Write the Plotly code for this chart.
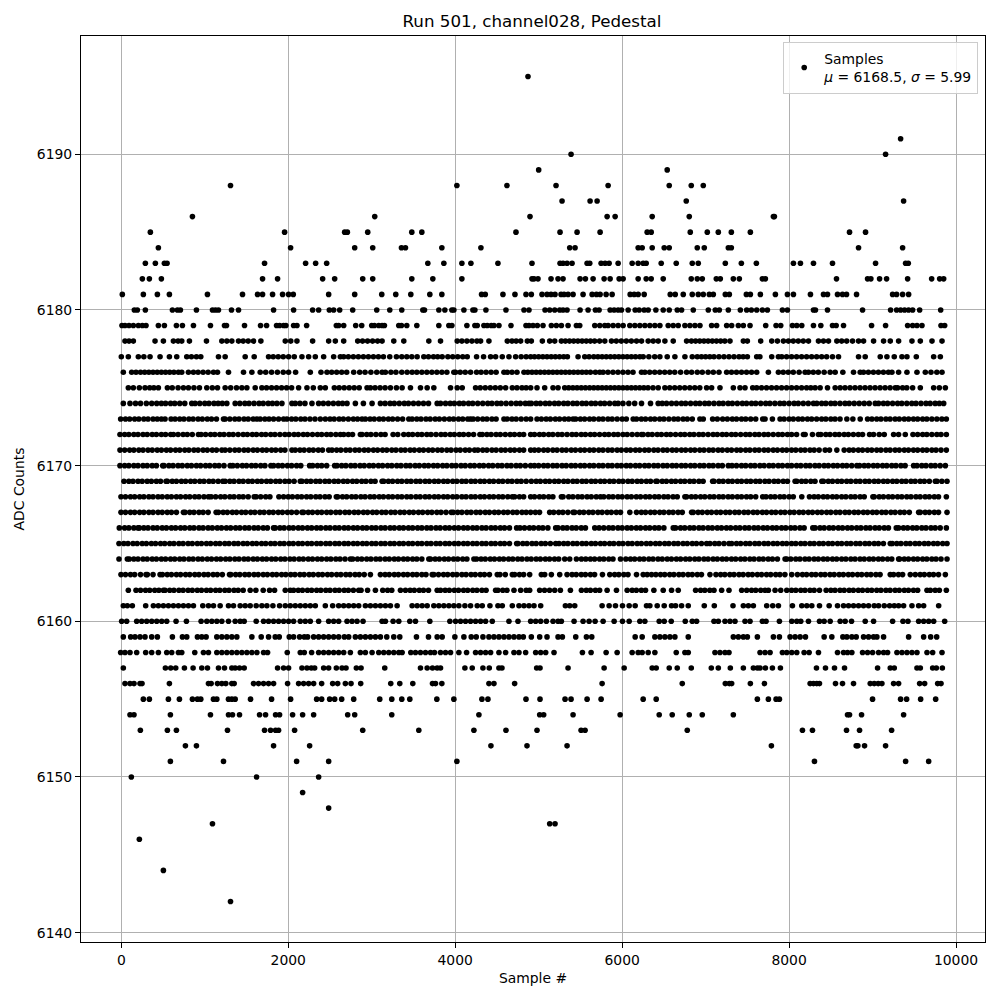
import plotly.graph_objects as go

s6195=[4872]
s6191=[9336]
s6190=[5388,9156]
s6189=[5000,6540]
s6188=[1308,4020,4620,5208,5832,6564,6828,6972]
s6187=[5280,5616,5700,6768,9372]
s6186=[852,3036,4896,5820,5916,6360,6804,7812,7824]
s6185=[348,1956,2676,2708,2952,3480,3600,4728,5256,5460,5736,6300,6348,6816,7020,7152,7308,7536,8724,8916]
s6184=[444,2028,2796,3012,3356,3404,3840,4308,5372,5436,6192,6240,6360,6504,6564,6900,6984,7272,7308,8832,9360]
s6183=[288,408,516,548,1716,2208,2328,2460,3672,3864,4080,4188,4512,4920,5256,5292,5340,5400,5580,5612,5748,5796,5844,5952,6120,6192,6252,6288,6468,6648,6840,6912,7236,7428,7608,8052,8136,8292,8520,9036,9396,9428]
s6182=[252,336,480,1692,1872,2412,2556,2892,3012,3480,3732,4080,4920,4944,4992,5148,5232,5292,5496,5560,5652,5784,5856,5964,6012,6192,6288,6348,6492,6828,6900,6960,7128,7176,7332,7404,7680,7716,8568,8940,8980,9084,9168,9420,9708,9804,9852]
s6181=[12,264,432,576,1032,1452,1632,1692,1812,1932,2004,2060,2484,2796,3120,3288,3468,3696,3840,4316,4360,4572,4716,4848,4912,5040,5100,5148,5196,5268,5304,5352,5412,5532,5640,5692,5736,5808,5880,6096,6144,6192,6264,6576,6636,6732,6840,6912,6972,7044,7092,7236,7284,7488,7536,7656,7836,7980,8052,8256,8412,8460,8580,8640,8688,8808,9240,9288,9360,9432]
s6180=[156,192,288,612,672,708,900,1092,1128,1164,1320,1404,1824,2064,2292,2364,2492,2544,2616,2772,3060,3216,3360,3612,3632,3804,3876,3960,3984,4104,4212,4236,4368,4608,4824,4884,5076,5132,5192,5252,5292,5340,5496,5592,5680,5724,5856,5904,5952,5992,6072,6156,6204,6264,6312,6404,6492,6564,6660,6712,6852,7032,7116,7164,7272,7416,7492,7548,7612,7680,7740,7920,7980,8292,8316,8460,8880,9216,9288,9336,9384,9432,9480,9564,9816]
s6179=[8,44,92,144,204,252,296,444,516,660,732,864,1068,1236,1260,1476,1668,1740,1860,1896,1944,1972,2064,2104,2220,2576,2604,2664,2808,2880,3000,3032,3084,3124,3152,3324,3356,3420,3540,3804,3924,3960,4140,4236,4264,4344,4384,4432,4464,4524,4668,4848,4884,4932,4984,5052,5152,5212,5272,5352,5452,5492,5672,5732,5792,5832,5892,5952,6012,6092,6152,6212,6272,6332,6392,6452,6552,6612,6672,6752,6812,6872,6932,7072,7132,7252,7312,7392,7452,7532,7720,7844,7900,8040,8092,8152,8292,8380,8520,8564,8652,8988,9156,9420,9480,9532,9592,9820,9864]
s6178=[44,92,144,404,504,624,680,724,816,1020,1204,1264,1324,1404,1460,1520,1584,1672,1964,2030,2104,2292,2484,2564,2664,2832,2890,2950,3010,3070,3124,3264,3384,3684,3824,4024,4080,4140,4200,4260,4304,4404,4624,4680,4730,4784,4864,4912,5044,5132,5192,5272,5320,5370,5420,5470,5520,5570,5620,5670,5730,5792,5872,5930,5990,6050,6110,6172,6232,6312,6372,6432,6512,6612,6772,6830,6880,6930,6980,7030,7080,7130,7180,7230,7292,7452,7500,7660,7792,7860,7932,7992,8050,8110,8170,8232,8352,8412,8472,8572,8630,8690,8760,8832,8892,9012,9132,9212,9312,9472,9572,9712,9832]
s6177=[0,84,204,270,344,464,576,664,784,840,900,952,1164,1244,1484,1592,1764,1820,1880,1940,2004,2072,2164,2244,2324,2424,2544,2624,2664,2720,2780,2840,2900,2960,3020,3080,3140,3216,3296,3360,3420,3480,3544,3624,3680,3740,3790,3844,3912,3970,4030,4090,4144,4256,4340,4424,4484,4564,4644,4724,4790,4850,4904,4950,5000,5050,5100,5150,5200,5250,5300,5344,5472,5552,5604,5660,5710,5760,5810,5860,5910,5960,6010,6060,6110,6160,6212,6252,6320,6390,6452,6540,6632,6752,6840,6900,6950,7000,7050,7100,7160,7220,7280,7340,7400,7450,7500,7612,7650,7792,7872,7912,7970,8030,8090,8150,8210,8270,8330,8390,8450,8520,8592,8832,8912,9092,9172,9260,9352,9412,9524,9732,9812]
s6176=[24,124,176,230,280,330,380,430,480,530,580,630,684,724,804,864,920,980,1040,1104,1152,1284,1464,1564,1664,1730,1800,1870,1940,2004,2088,2264,2392,2464,2520,2580,2640,2700,2784,2856,2920,2990,3060,3124,3164,3230,3290,3360,3424,3484,3540,3600,3660,3720,3780,3840,3900,3984,4004,4060,4120,4184,4256,4310,4370,4430,4490,4584,4624,4680,4740,4824,4870,4920,4970,5020,5070,5120,5170,5220,5270,5320,5370,5420,5470,5520,5570,5620,5680,5732,5772,5830,5890,5950,6010,6070,6130,6232,6272,6330,6390,6450,6510,6570,6630,6700,6772,6832,6900,6960,7030,7092,7160,7252,7310,7370,7430,7490,7550,7612,7752,7872,7930,7990,8050,8120,8192,8232,8290,8350,8420,8492,8552,8644,8772,8852,8892,8950,9010,9070,9130,9190,9232,9312,9412,9532,9632,9700,9770,9832]
s6175=[84,144,216,284,340,390,444,552,610,680,744,804,870,936,1024,1090,1152,1244,1310,1380,1444,1504,1604,1684,1740,1800,1860,1920,1980,2040,2124,2224,2300,2384,2444,2552,2610,2670,2730,2790,2850,2944,2984,3040,3100,3160,3224,3296,3364,3464,3584,3664,3744,3944,4024,4084,4244,4300,4360,4420,4480,4540,4604,4684,4740,4800,4850,4904,4980,5072,5172,5232,5312,5360,5410,5460,5510,5560,5610,5660,5710,5760,5810,5860,5910,5960,6010,6060,6110,6160,6210,6260,6310,6370,6432,6512,6570,6630,6690,6750,6810,6870,6930,7012,7072,7172,7332,7412,7472,7564,7612,7670,7730,7790,7850,7910,7970,8030,8090,8150,8210,8260,8312,8372,8460,8552,8612,8670,8730,8790,8850,8910,8970,9030,9090,9150,9210,9272,9300,9360,9410,9480,9572,9732,9800,9872]
s6174=[24,104,170,230,300,364,424,480,530,590,640,700,760,844,884,940,1000,1050,1110,1160,1210,1264,1364,1420,1480,1530,1590,1650,1700,1760,1810,1864,1924,2044,2084,2140,2200,2284,2364,2420,2480,2540,2600,2650,2704,2804,2900,3004,3104,3160,3220,3270,3330,3390,3440,3500,3560,3620,3680,3784,3824,3884,3940,3990,4050,4100,4160,4210,4270,4330,4390,4440,4500,4550,4610,4670,4730,4780,4840,4884,4912,4970,5020,5080,5130,5190,5240,5300,5350,5410,5460,5520,5570,5630,5680,5740,5790,5850,5912,5952,6010,6080,6150,6232,6340,6432,6480,6532,6592,6650,6710,6760,6820,6880,6930,6990,7040,7100,7160,7210,7270,7320,7380,7440,7490,7550,7600,7660,7720,7770,7830,7890,7940,8000,8060,8110,8170,8230,8292,8332,8390,8440,8500,8550,8610,8670,8720,8780,8840,8900,8960,9032,9072,9130,9180,9240,9300,9350,9410,9470,9520,9580,9640,9690,9750,9800,9852]
s6173=[-8,50,100,160,210,270,320,380,430,480,524,596,644,700,750,810,860,920,970,1030,1080,1140,1224,1244,1300,1360,1410,1470,1520,1580,1624,1664,1720,1770,1824,1884,1944,1984,2040,2090,2150,2200,2260,2320,2384,2444,2500,2550,2610,2660,2720,2780,2830,2884,2924,2980,3030,3090,3140,3200,3250,3310,3370,3444,3484,3540,3590,3650,3700,3760,3810,3870,3930,3980,4040,4090,4150,4184,4216,4270,4330,4380,4440,4490,4584,4624,4680,4730,4790,4850,4904,4980,5032,5090,5140,5200,5250,5310,5360,5412,5444,5500,5550,5610,5660,5720,5770,5830,5880,5940,6000,6050,6132,6172,6230,6280,6340,6390,6450,6500,6560,6620,6670,6730,6780,6840,6932,6972,7084,7140,7204,7260,7320,7370,7430,7480,7540,7600,7684,7712,7800,7892,7940,8000,8050,8110,8160,8220,8270,8330,8390,8440,8500,8550,8610,8692,8764,8852,8940,8992,9050,9100,9160,9210,9270,9320,9380,9432,9490,9540,9600,9650,9710,9770,9830,9884]
s6172=[-16,40,90,150,200,260,310,370,420,480,530,592,624,680,740,790,850,924,956,1010,1070,1120,1180,1230,1290,1340,1400,1460,1510,1570,1620,1680,1730,1790,1840,1900,1960,2010,2070,2120,2180,2230,2290,2350,2400,2460,2510,2570,2624,2664,2720,2770,2864,2884,2940,2990,3050,3110,3160,3256,3312,3384,3440,3490,3550,3600,3660,3710,3770,3830,3880,3940,3990,4050,4100,4160,4220,4296,4324,4380,4430,4490,4540,4600,4660,4710,4770,4820,4904,4950,5010,5060,5120,5170,5230,5280,5340,5400,5450,5510,5560,5620,5670,5730,5790,5840,5900,5950,6010,6060,6120,6180,6232,6252,6310,6360,6420,6470,6530,6580,6640,6700,6750,6810,6860,6920,6970,7030,7090,7140,7200,7250,7310,7360,7420,7480,7530,7590,7640,7700,7750,7810,7870,7920,7980,8030,8090,8172,8192,8280,8352,8380,8440,8490,8550,8600,8660,8710,8770,8830,8880,8964,9012,9080,9140,9252,9312,9392,9484,9540,9600,9650,9710,9770,9820,9884]
s6171=[-16,40,100,150,210,260,320,370,430,480,540,590,650,700,760,810,870,920,980,1030,1090,1140,1204,1244,1300,1360,1410,1470,1520,1580,1630,1690,1740,1800,1850,1910,1960,2044,2084,2140,2190,2250,2300,2360,2410,2484,2524,2580,2630,2690,2740,2800,2850,2910,2960,3020,3070,3130,3180,3240,3290,3350,3400,3460,3510,3570,3620,3680,3730,3790,3840,3900,3950,4010,4060,4120,4170,4232,4272,4330,4380,4440,4490,4550,4600,4660,4710,4770,4820,4904,4950,5000,5060,5110,5170,5220,5280,5330,5390,5440,5500,5550,5610,5660,5720,5770,5830,5880,5940,5990,6050,6100,6160,6210,6270,6320,6380,6430,6490,6540,6600,6650,6710,6760,6820,6870,6930,6980,7040,7090,7150,7200,7260,7310,7372,7420,7480,7530,7590,7640,7700,7750,7810,7860,7920,7970,8030,8080,8140,8190,8250,8300,8360,8432,8484,8572,8660,8720,8770,8830,8880,8940,8990,9050,9100,9160,9210,9270,9320,9380,9430,9490,9540,9600,9650,9710,9760,9820,9884]
s6170=[-16,40,90,150,200,260,310,370,420,496,512,570,620,680,730,790,840,900,950,1010,1060,1120,1170,1230,1304,1336,1390,1450,1500,1560,1610,1670,1720,1792,1824,1880,1930,1990,2040,2100,2150,2256,2292,2350,2400,2460,2556,2584,2640,2690,2750,2800,2860,2910,2970,3020,3080,3130,3190,3240,3300,3350,3410,3460,3520,3570,3630,3680,3740,3790,3850,3900,3960,4010,4070,4120,4180,4230,4290,4340,4400,4450,4510,4560,4620,4670,4730,4780,4840,4904,4950,5000,5060,5110,5170,5220,5280,5330,5390,5440,5500,5550,5610,5660,5720,5770,5830,5880,5940,5990,6050,6100,6160,6210,6270,6320,6380,6430,6490,6540,6600,6650,6710,6760,6820,6870,6930,6980,7040,7090,7150,7200,7272,7316,7370,7430,7480,7540,7590,7650,7700,7760,7810,7870,7920,7980,8030,8090,8140,8200,8250,8310,8360,8420,8470,8530,8580,8640,8690,8750,8812,8844,8900,8950,9010,9060,9120,9170,9230,9280,9340,9390,9492,9532,9590,9640,9700,9750,9810,9872]
s6169=[32,90,140,200,250,310,360,420,470,536,552,610,660,720,770,830,880,940,990,1050,1100,1160,1216,1244,1300,1350,1410,1460,1520,1570,1630,1680,1740,1790,1850,1900,1960,2010,2070,2144,2164,2220,2270,2330,2380,2440,2490,2550,2600,2660,2710,2770,2820,2880,2930,2990,3040,3124,3144,3200,3250,3310,3360,3420,3470,3530,3580,3640,3690,3750,3800,3860,3910,3970,4020,4080,4130,4190,4240,4300,4350,4410,4460,4520,4570,4630,4680,4740,4790,4850,4912,4970,5020,5080,5130,5190,5240,5300,5350,5410,5460,5520,5570,5630,5680,5740,5790,5850,5900,5960,6010,6070,6120,6180,6230,6290,6340,6404,6420,6480,6530,6590,6640,6700,6750,6810,6860,6920,6970,7084,7100,7160,7210,7270,7320,7380,7430,7490,7540,7600,7650,7710,7760,7820,7870,7930,7980,8072,8092,8150,8200,8260,8310,8392,8412,8470,8520,8580,8630,8690,8740,8800,8850,8910,8960,9020,9070,9130,9180,9240,9290,9350,9400,9460,9510,9570,9620,9680,9752,9772,9830,9892]
s6168=[-4,50,110,160,220,270,330,380,440,490,550,600,660,710,770,820,880,930,990,1044,1076,1130,1190,1240,1300,1350,1410,1460,1520,1592,1616,1670,1730,1780,1888,1944,2000,2050,2110,2160,2220,2270,2330,2380,2440,2490,2576,2592,2650,2700,2760,2810,2870,2920,2980,3030,3090,3140,3200,3250,3310,3360,3420,3470,3530,3580,3640,3690,3750,3800,3860,3910,3970,4020,4080,4130,4190,4240,4300,4350,4410,4460,4520,4570,4630,4684,4712,4770,4820,4904,4950,5010,5060,5120,5170,5272,5292,5360,5410,5470,5520,5580,5630,5690,5740,5780,5840,5890,5950,6000,6060,6110,6170,6220,6280,6330,6390,6440,6500,6550,6610,6660,6752,6772,6830,6880,6940,6990,7050,7100,7160,7210,7270,7320,7380,7430,7490,7540,7600,7684,7724,7780,7830,7890,7940,8000,8050,8152,8244,8300,8350,8410,8460,8520,8570,8630,8680,8740,8790,8850,8900,9004,9020,9080,9130,9190,9240,9300,9350,9410,9460,9520,9570,9630,9680,9740,9790,9884]
s6167=[-4,50,110,160,220,270,330,380,440,490,550,600,660,744,764,820,870,930,980,1040,1136,1164,1220,1270,1330,1380,1440,1490,1550,1600,1660,1710,1770,1820,1880,1930,1990,2040,2100,2164,2184,2240,2290,2350,2400,2460,2510,2570,2620,2680,2730,2790,2840,2900,2950,3010,3060,3120,3170,3230,3280,3340,3390,3450,3500,3560,3610,3670,3720,3780,3830,3890,3952,3976,4030,4080,4140,4190,4250,4300,4360,4410,4470,4520,4580,4630,4690,4740,4800,4850,4904,4960,5010,5132,5180,5240,5290,5350,5412,5432,5490,5540,5600,5650,5710,5760,5820,5870,5930,5980,6092,6172,6230,6280,6340,6390,6450,6500,6560,6610,6670,6720,6832,6852,6910,6960,7020,7070,7130,7180,7240,7290,7350,7400,7460,7510,7570,7620,7680,7730,7790,7840,7900,7950,8010,8060,8120,8170,8230,8280,8340,8390,8450,8500,8560,8610,8670,8720,8780,8830,8890,8940,9000,9050,9110,9160,9220,9270,9330,9380,9440,9552,9572,9630,9680,9740,9790,9892]
s6166=[-24,40,90,150,200,216,270,320,380,430,490,540,600,650,710,760,820,870,930,980,1040,1090,1150,1200,1260,1310,1370,1420,1480,1530,1590,1640,1700,1750,1824,1844,1900,1950,2010,2060,2120,2170,2230,2280,2340,2390,2450,2500,2560,2610,2670,2720,2780,2830,2890,2940,3000,3050,3110,3160,3220,3270,3330,3380,3440,3490,3550,3600,3660,3710,3770,3820,3880,3930,3990,4040,4100,4150,4210,4260,4320,4370,4430,4480,4540,4590,4650,4736,4776,4830,4890,4940,5000,5050,5110,5204,5232,5290,5340,5400,5450,5510,5560,5672,5724,5780,5840,5890,5950,6000,6060,6110,6170,6220,6280,6330,6390,6440,6500,6612,6640,6700,6750,6810,6860,6920,6970,7030,7080,7140,7190,7250,7300,7360,7410,7470,7520,7580,7630,7690,7740,7800,7850,7910,7960,8020,8070,8130,8180,8284,8312,8370,8420,8480,8530,8590,8640,8700,8750,8810,8860,8920,8970,9030,9080,9140,9190,9284,9312,9370,9420,9480,9530,9590,9640,9700,9750,9810,9884]
s6165=[-28,30,80,140,190,250,300,360,410,470,520,580,630,690,740,800,850,910,960,1020,1070,1130,1180,1240,1290,1350,1400,1460,1510,1570,1620,1680,1730,1790,1840,1900,1950,2010,2060,2120,2170,2230,2280,2340,2390,2450,2500,2560,2610,2670,2720,2780,2830,2890,2940,3000,3050,3110,3160,3220,3270,3330,3380,3440,3490,3550,3600,3660,3710,3770,3820,3880,3930,3990,4040,4100,4150,4210,4260,4320,4370,4430,4480,4540,4590,4650,4736,4752,4810,4860,4920,4970,5030,5080,5140,5204,5244,5300,5350,5410,5460,5520,5570,5630,5680,5740,5790,5850,5900,5960,6010,6070,6120,6180,6230,6290,6340,6400,6450,6510,6560,6620,6670,6730,6780,6840,6890,6950,7012,7052,7110,7160,7220,7280,7312,7370,7420,7480,7530,7590,7640,7700,7750,7810,7860,7920,7970,8030,8080,8140,8190,8250,8300,8360,8410,8470,8520,8580,8630,8690,8740,8800,8850,8910,8960,9020,9070,9130,9212,9236,9290,9340,9400,9450,9510,9560,9620,9670,9730,9780,9840,9892]
s6164=[-28,72,96,150,200,260,310,370,420,480,530,590,640,700,750,810,860,920,970,1030,1080,1140,1190,1250,1300,1360,1410,1470,1520,1580,1630,1690,1740,1800,1850,1910,1960,2020,2070,2130,2180,2240,2290,2350,2400,2460,2510,2570,2620,2680,2744,2772,2830,2880,2940,2990,3050,3100,3160,3210,3270,3320,3380,3430,3490,3540,3600,3684,3704,3760,3810,3870,3920,3980,4030,4090,4140,4224,4256,4310,4360,4420,4470,4530,4580,4640,4690,4750,4800,4860,4910,4970,5020,5080,5130,5190,5240,5312,5372,5452,5512,5564,5620,5670,5730,5780,5840,5890,5980,6044,6100,6150,6210,6260,6320,6370,6430,6480,6540,6590,6650,6700,6760,6810,6870,6920,6980,7030,7090,7140,7200,7250,7310,7360,7420,7470,7530,7580,7640,7690,7750,7800,7860,7952,7972,8020,8080,8130,8190,8240,8300,8350,8410,8460,8520,8570,8630,8680,8740,8790,8850,8900,8960,9010,9070,9120,9180,9230,9312,9324,9380,9430,9490,9540,9600,9650,9710,9760,9820,9892]
s6163=[-4,50,110,160,230,296,312,380,464,492,550,600,660,710,770,820,880,930,990,1040,1100,1150,1210,1296,1312,1370,1420,1480,1530,1590,1640,1700,1750,1810,1860,1920,1970,2030,2080,2140,2190,2250,2300,2360,2410,2470,2520,2580,2630,2690,2740,2800,2850,2910,2984,3104,3160,3210,3270,3320,3380,3430,3490,3540,3600,3650,3724,3744,3800,3860,3910,3970,4020,4080,4130,4190,4240,4300,4350,4410,4504,4536,4600,4684,4712,4770,4820,4892,5032,5072,5152,5252,5340,5400,5450,5510,5560,5620,5670,5764,5852,5910,5960,6020,6070,6172,6252,6300,6352,6404,6460,6510,6570,6620,6680,6730,6790,6840,6900,6950,7052,7124,7180,7230,7290,7340,7400,7450,7510,7560,7620,7670,7730,7780,7840,7890,7950,8032,8100,8160,8210,8270,8320,8380,8430,8490,8540,8600,8650,8710,8760,8820,8870,8930,8980,9040,9090,9212,9252,9310,9360,9452,9512,9570,9620,9680,9730,9790,9872]
s6162=[84,176,230,290,340,400,450,504,524,580,630,690,740,800,850,910,960,1020,1070,1130,1180,1240,1290,1350,1400,1460,1544,1612,1700,1776,1836,1964,2024,2064,2120,2170,2230,2280,2340,2390,2450,2500,2560,2610,2670,2720,2780,2844,2872,2950,3044,3132,3190,3240,3344,3404,3460,3510,3570,3620,3680,3784,3824,3880,3930,3990,4040,4100,4150,4210,4260,4320,4370,4484,4512,4570,4620,4704,4784,4850,4892,5012,5070,5130,5192,5260,5380,5512,5570,5620,5680,5730,5820,5932,6060,6120,6170,6230,6280,6380,6492,6592,6672,6880,6940,6990,7050,7100,7192,7280,7432,7492,7550,7600,7660,7712,7752,7832,7900,7972,8030,8080,8140,8190,8250,8300,8364,8444,8500,8550,8610,8660,8720,8770,8830,8880,8940,8990,9050,9100,9160,9210,9270,9320,9380,9430,9490,9540,9652,9692,9750,9800,9884]
s6161=[24,72,132,292,384,444,504,564,624,684,744,804,864,976,1044,1104,1184,1284,1344,1424,1484,1544,1616,1684,1744,1816,1896,1964,2024,2084,2144,2204,2264,2324,2444,2532,2604,2664,2724,2784,2844,2924,2984,3044,3104,3164,3224,3304,3484,3544,3604,3664,3744,3804,3864,3924,3984,4044,4116,4184,4264,4324,4416,4512,4564,4684,4764,4824,4884,4944,5024,5320,5372,5432,5760,5844,5920,6004,6084,6156,6292,6332,6420,6504,6592,6640,6712,6792,6984,7104,7328,7452,7512,7572,7732,7804,7872,8040,8152,8212,8272,8364,8480,8580,8652,8712,8772,8832,8892,8952,9020,9072,9140,9204,9260,9312,9372,9472,9552,9612,9792]
s6160=[4,64,184,244,304,364,424,484,544,656,780,956,1024,1084,1144,1204,1284,1364,1424,1472,1616,1704,1764,1824,1884,1944,2004,2064,2144,2204,2264,2364,2484,2544,2604,2704,2764,2824,2896,3124,3164,3256,3324,3456,3524,3696,3936,4004,4064,4124,4184,4244,4304,4364,4444,4644,4752,4904,4964,5024,5092,5172,5232,5272,5424,5532,5604,5676,5772,5904,6004,6084,6212,6272,6444,6504,6588,6756,6840,6892,7100,7152,7232,7292,7352,7472,7532,7680,7724,7884,8032,8092,8140,8232,8364,8420,8492,8612,8672,8748,8912,9012,9240,9364,9424,9552,9612,9672,9732,9864]
s6159=[24,112,164,224,284,364,432,612,732,784,912,964,1016,1144,1204,1264,1324,1384,1564,1676,1764,1844,1892,2012,2064,2136,2192,2232,2304,2364,2424,2484,2544,2604,2672,2724,2804,2864,2924,2984,3044,3104,3180,3264,3336,3536,3680,3784,3844,3996,4104,4192,4252,4332,4404,4464,4524,4584,4644,4704,4764,4816,4912,5012,5100,5232,5284,5444,5572,5636,6156,6240,6392,6452,6512,6572,6632,6792,7332,7392,7452,7500,7620,7812,7884,8012,8072,8132,8196,8420,8512,8644,8692,8752,8804,8892,8952,9012,9052,9132,9432,9612,9696,9768]
s6158=[-8,44,104,184,292,364,444,544,604,684,724,880,984,1044,1144,1204,1264,1324,1384,1444,1504,1564,1624,1704,1752,1988,2144,2192,2280,2364,2424,2484,2544,2604,2664,2744,2864,2924,3004,3084,3144,3204,3264,3324,3364,3468,3524,3584,3644,3704,3752,3824,3884,3944,4044,4136,4244,4304,4364,4424,4524,4604,4704,4764,4844,4964,5024,5084,5184,5524,5628,5808,5940,6120,6192,6240,6312,6392,6648,6752,6792,7112,7172,7232,7280,7652,7712,7772,7920,7972,8032,8092,8180,8240,8352,8580,8652,8700,8752,8880,8940,9000,9072,9132,9180,9292,9352,9412,9472,9532,9652,9720,9832]
s6157=[24,528,592,652,756,860,964,1032,1164,1236,1324,1364,1416,1472,1872,1944,2004,2164,2224,2276,2316,2424,2484,2576,2644,2692,2816,2872,3156,3584,3664,3728,3784,3824,4116,4204,4332,4408,4524,4560,4976,5016,5352,5784,6024,6360,6408,6564,6660,6828,7068,7152,7296,7452,7572,7620,7652,7716,7800,7896,8328,8436,8544,8664,9060,9212,9260,9532,9572,9720,9764,9836]
s6156=[44,104,152,224,248,576,1044,1076,1152,1204,1252,1324,1352,1584,1644,1704,1764,1824,1992,2124,2184,2244,2304,2400,2532,2592,2684,2752,2868,3228,3336,3492,3728,3764,3840,4404,4464,4712,5760,6720,7236,7284,7312,7536,7704,8252,8292,8332,8364,8556,8640,8772,8972,9020,9068,9112,9252,9312,9564,9624,9780,9820]
s6155=[264,336,564,696,852,912,952,1104,1144,1284,1324,1364,1548,1800,2028,2340,2400,2496,2556,2640,2784,3096,3240,3360,3456,3780,3984,4320,4392,4848,5016,5316,5388,5580,5748,6252,6408,7620,7752,7844,7884,9000,9336,9408,9576,9756]
s6154=[104,152,588,1068,1284,1332,1416,1656,1728,1848,1896,2052,2172,2304,2712,2796,3240,4284,5012,5060,5412,5976,6444,6600,6804,6960,7332,8700,8724,8868,9372]
s6153=[228,552,660,1272,1716,1788,1848,1884,2076,2892,3564,4224,4608,4980,5508,5556,6780,8160,8280,8688,8844,9228]
s6152=[768,900,1824,2256,4428,4860,5340,7788,8804,8824,8904,9156]
s6151=[588,1224,2100,2484,4020,8304,9396,9672]
s6150=[120,1620,2364]
s6149=[2172]
s6148=[2484]
s6147=[1092,5132,5196]
s6146=[216]
s6144=[504]
s6142=[1308]

levels = {6195:s6195,6191:s6191,6190:s6190,6189:s6189,6188:s6188,6187:s6187,6186:s6186,6185:s6185,6184:s6184,6183:s6183,
 6182:s6182,6181:s6181,6180:s6180,6179:s6179,6178:s6178,6177:s6177,6176:s6176,6175:s6175,6174:s6174,6173:s6173,6172:s6172,
 6171:s6171,6170:s6170,6169:s6169,6168:s6168,6167:s6167,6166:s6166,6165:s6165,6164:s6164,6163:s6163,6162:s6162,6161:s6161,
 6160:s6160,6159:s6159,6158:s6158,6157:s6157,6156:s6156,6155:s6155,6154:s6154,6153:s6153,6152:s6152,6151:s6151,6150:s6150,
 6149:s6149,6148:s6148,6147:s6147,6146:s6146,6144:s6144,6142:s6142}

xs=[]; ys=[]
for lev, samples in levels.items():
    xs += samples
    ys += [lev]*len(samples)

F = "DejaVu Sans"
fig = go.Figure(go.Scatter(x=xs, y=ys, mode="markers",
    marker=dict(color="black", size=5.6, line=dict(width=0)),
    name="Samples<br><i>μ</i> = 6168.5, <i>σ</i> = 5.99"))

axis = dict(showgrid=True, gridcolor="#b0b0b0", gridwidth=1, zeroline=False, showline=True,
            linecolor="black", linewidth=1, mirror=True, ticks="outside", ticklen=5, tickwidth=1,
            tickcolor="black", tickfont=dict(family=F, size=13.9, color="black"))
fig.update_layout(
    width=1000, height=1000, autosize=False, plot_bgcolor="white", paper_bgcolor="white",
    margin=dict(l=81, r=15, t=36, b=58),
    font=dict(family=F, color="black"),
    title=dict(text="Run 501, channel028, Pedestal", x=0.532, xanchor="center", y=0.9785, yanchor="middle",
               font=dict(family=F, size=16.7, color="black")),
    xaxis=dict(axis, range=[-483, 10347], tickvals=[0,2000,4000,6000,8000,10000], tickformat="d",
               title=dict(text="Sample #", font=dict(family=F, size=13.9, color="black"), standoff=6)),
    yaxis=dict(axis, range=[6139.4, 6197.6], tickvals=[6140,6150,6160,6170,6180,6190], tickformat="d",
               title=dict(text="ADC Counts", font=dict(family=F, size=13.9, color="black"), standoff=8)),
    showlegend=True,
    legend=dict(x=0.9925, y=0.9935, xanchor="right", yanchor="top", bgcolor="rgba(255,255,255,0.8)",
                bordercolor="#cccccc", borderwidth=1, font=dict(family=F, size=13.9, color="black"),
                itemsizing="trace", itemwidth=30),
)
fig.write_html("out.html", config={"displayModeBar": False}, post_script="document.body.style.margin='0';")
